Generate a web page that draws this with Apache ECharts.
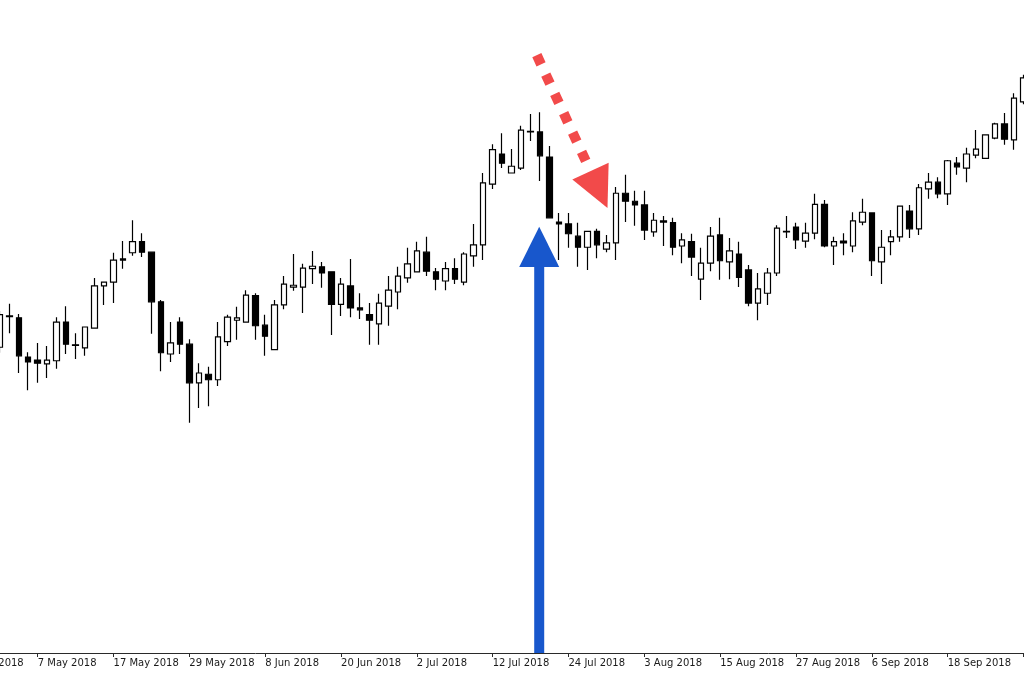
<!DOCTYPE html>
<html><head><meta charset="utf-8">
<script src="https://cdn.jsdelivr.net/npm/echarts@6/dist/echarts.min.js"></script>
<style>html,body{margin:0;padding:0;background:#fff}#c{width:1024px;height:683px}</style>
</head><body><div id="c"></div>
<script>
// Leading (empty) sessions, only used so the partial first axis label appears
const leadDates = ['25 Apr 2018','26 Apr 2018','27 Apr 2018','30 Apr 2018'];
const dates = [
 '1 May 2018','2 May 2018','3 May 2018','4 May 2018','7 May 2018','8 May 2018','9 May 2018','10 May 2018','11 May 2018',
 '14 May 2018','15 May 2018','16 May 2018','17 May 2018','18 May 2018','21 May 2018','22 May 2018','23 May 2018','24 May 2018',
 '25 May 2018','28 May 2018','29 May 2018','30 May 2018','31 May 2018',
 '1 Jun 2018','4 Jun 2018','5 Jun 2018','6 Jun 2018','7 Jun 2018','8 Jun 2018','11 Jun 2018','12 Jun 2018','13 Jun 2018',
 '14 Jun 2018','15 Jun 2018','18 Jun 2018','19 Jun 2018','20 Jun 2018','21 Jun 2018','22 Jun 2018','25 Jun 2018','26 Jun 2018',
 '27 Jun 2018','28 Jun 2018','29 Jun 2018',
 '2 Jul 2018','3 Jul 2018','4 Jul 2018','5 Jul 2018','6 Jul 2018','9 Jul 2018','10 Jul 2018','11 Jul 2018','12 Jul 2018',
 '13 Jul 2018','16 Jul 2018','17 Jul 2018','18 Jul 2018','19 Jul 2018','20 Jul 2018','23 Jul 2018','24 Jul 2018','25 Jul 2018',
 '26 Jul 2018','27 Jul 2018','30 Jul 2018','31 Jul 2018',
 '1 Aug 2018','2 Aug 2018','3 Aug 2018','6 Aug 2018','7 Aug 2018','8 Aug 2018','9 Aug 2018','10 Aug 2018','13 Aug 2018',
 '14 Aug 2018','15 Aug 2018','16 Aug 2018','17 Aug 2018','20 Aug 2018','21 Aug 2018','22 Aug 2018','23 Aug 2018','24 Aug 2018',
 '27 Aug 2018','28 Aug 2018','29 Aug 2018','30 Aug 2018','31 Aug 2018',
 '3 Sep 2018','4 Sep 2018','5 Sep 2018','6 Sep 2018','7 Sep 2018','10 Sep 2018','11 Sep 2018','12 Sep 2018','13 Sep 2018',
 '14 Sep 2018','17 Sep 2018','18 Sep 2018','19 Sep 2018','20 Sep 2018','21 Sep 2018','24 Sep 2018','25 Sep 2018','26 Sep 2018',
 '27 Sep 2018','28 Sep 2018'
];
const opens = [
 109.34,109.85,109.82,109.18,109.13,109.07,109.12,109.75,109.38,109.33,
 109.65,110.34,110.40,110.76,110.88,111.06,110.89,110.08,109.23,109.75,
 109.39,108.76,108.90,108.81,109.43,109.78,109.75,110.18,109.70,109.30,
 110.03,110.32,110.32,110.62,110.65,110.57,110.04,110.34,109.98,109.87,
 109.72,110.01,110.24,110.47,110.57,110.89,110.57,110.42,110.62,110.40,
 110.83,111.01,112.00,112.49,112.18,112.26,112.85,112.85,112.44,111.38,
 111.35,111.15,110.97,111.23,110.94,111.04,111.85,111.72,111.66,111.22,
 111.38,111.37,110.99,111.06,110.45,110.71,111.17,110.73,110.86,110.60,
 110.06,110.22,110.55,111.22,111.30,111.07,111.20,111.67,110.99,111.07,
 110.99,111.38,111.53,110.73,111.06,111.14,111.56,111.27,111.92,112.03,
 111.84,112.34,112.26,112.47,112.42,112.75,112.98,112.72,113.34
];
const highs = [
 109.93,110.05,109.88,109.26,109.41,109.36,109.83,110.01,109.57,109.68,
 110.47,110.41,110.88,111.07,111.41,111.20,110.90,110.11,109.75,109.83,
 109.47,109.08,109.02,109.75,109.87,110.00,110.27,110.22,109.87,110.11,
 110.50,110.86,110.70,110.91,110.73,110.58,110.47,110.78,110.22,110.06,
 110.21,110.50,110.65,110.96,111.06,111.14,110.63,110.73,110.79,110.89,
 111.35,112.18,112.65,112.83,112.57,112.95,113.14,113.17,112.62,111.53,
 111.53,111.37,111.24,111.27,111.17,111.95,112.15,111.89,111.89,111.53,
 111.48,111.45,111.20,111.19,110.96,111.30,111.45,111.12,111.06,110.68,
 110.55,110.63,111.33,111.48,111.37,111.37,111.84,111.74,111.14,111.20,
 111.54,111.76,111.54,111.25,111.25,111.65,111.66,112.00,112.18,112.11,
 112.39,112.44,112.59,112.88,112.81,113.00,113.16,113.48,113.78
];
const lows = [
 109.25,109.57,108.92,108.64,108.76,108.84,108.99,109.23,109.15,109.20,
 109.64,110.03,110.06,110.62,110.83,110.81,109.56,108.95,109.10,109.23,
 108.11,108.35,108.38,108.71,109.36,109.46,109.74,109.46,109.20,109.29,
 109.96,110.26,109.90,110.37,110.31,109.54,109.85,109.83,109.80,109.38,
 109.38,109.69,109.96,110.39,110.56,110.50,110.27,110.27,110.37,110.35,
 110.65,110.76,111.92,112.26,112.17,112.23,112.70,112.05,111.44,110.76,
 110.96,110.65,110.60,110.79,110.89,110.76,111.38,111.32,111.09,111.14,
 110.99,110.84,110.71,110.50,110.11,110.58,110.44,110.45,110.32,110.01,
 109.78,110.03,110.50,111.12,110.94,110.96,111.10,110.97,110.68,110.84,
 110.89,111.33,110.50,110.37,110.84,111.06,111.12,111.17,111.76,111.77,
 111.66,112.15,112.03,112.42,112.41,112.73,112.64,112.56,113.30
];
const closes = [
 109.87,109.84,109.20,109.10,109.08,109.13,109.75,109.39,109.37,109.67,
 110.34,110.40,110.76,110.78,111.06,110.89,110.08,109.25,109.41,109.39,
 108.76,108.92,108.81,109.51,109.83,109.82,110.19,109.69,109.52,110.03,
 110.37,110.35,110.63,110.66,110.55,110.04,110.37,109.98,109.95,109.78,
 110.06,110.27,110.50,110.70,110.91,110.58,110.45,110.62,110.45,110.86,
 111.01,112.02,112.56,112.34,112.29,112.88,112.86,112.46,111.45,111.35,
 111.19,110.97,111.23,111.01,111.04,111.85,111.72,111.66,111.25,111.41,
 111.40,110.97,111.09,110.81,110.71,111.15,110.75,110.91,110.48,110.06,
 110.29,110.55,111.28,111.23,111.09,111.20,111.67,110.99,111.06,111.04,
 111.40,111.54,110.75,110.97,111.14,111.64,111.27,111.94,112.03,111.84,
 112.38,112.28,112.49,112.57,112.80,112.98,112.73,113.40,113.73
];
// Annotations in data space: [category index (fractional), price]
const redArrowFrom = [60.66, 114.10];
const redArrowTo = [66.32, 112.21];
const blueArrowAt = 60.91;
const blueArrowTip = 111.305;
const blueArrowBase = 110.648;
const yMin = 104.356, yMax = 115.0;

const categories = leadDates.concat(dates);
const ohlc = leadDates.map(() => '-').concat(
  dates.map((d, i) => [opens[i], closes[i], lows[i], highs[i]]));

const chart = echarts.init(document.getElementById('c'), null, {renderer: 'canvas'});
const every8 = (i) => i % 8 === 0;
chart.setOption({
  animation: false,
  backgroundColor: '#ffffff',
  grid: {left: -42.85, right: -4.2, top: 0, bottom: 30, containLabel: false, outerBoundsMode: 'none'},
  xAxis: {
    type: 'category', data: categories, boundaryGap: true,
    axisLine: {show: true, lineStyle: {color: '#2a2a2a', width: 1}},
    axisTick: {show: true, interval: every8, alignWithLabel: true, length: 4, lineStyle: {color: '#2a2a2a'}},
    axisLabel: {show: true, interval: every8, align: 'left', margin: 5,
      fontFamily: 'DejaVu Sans', fontSize: 10, color: '#1a1a1a'},
    splitLine: {show: false}
  },
  yAxis: {type: 'value', min: yMin, max: yMax, show: false, splitLine: {show: false}},
  series: [{
    type: 'candlestick', data: ohlc, barWidth: 6,
    itemStyle: {color: '#ffffff', color0: '#000000', borderColor: '#000000', borderColor0: '#000000', borderWidth: 1.2}
  }]
});

function px(idx, price) {
  const i0 = Math.floor(idx), f = idx - i0;
  const a = chart.convertToPixel({gridIndex: 0}, [i0, price]);
  const b = chart.convertToPixel({gridIndex: 0}, [i0 + 1, price]);
  return [a[0] + (b[0] - a[0]) * f, a[1]];
}
const S = px(redArrowFrom[0], redArrowFrom[1]);
const B = px(redArrowTo[0], redArrowTo[1]);
const dx = B[0] - S[0], dy = B[1] - S[1], L = Math.hypot(dx, dy);
const ux = dx / L, uy = dy / L, nx = uy, ny = -ux;
const hw = 20, hl = 40.5;
const tip = px(blueArrowAt, blueArrowTip);
const base = px(blueArrowAt, blueArrowBase);
const axisY = chart.convertToPixel({gridIndex: 0}, [0, yMin])[1];
const red = '#f24a4a', blue = '#1857cc';
chart.setOption({
  graphic: [
    {type: 'line', z: 100, shape: {x1: S[0], y1: S[1], x2: B[0], y2: B[1]},
     style: {stroke: red, lineWidth: 10, lineDash: [10, 11.3], lineCap: 'butt'}},
    {type: 'polygon', z: 100, shape: {points: [
      [B[0] + nx * hw, B[1] + ny * hw], [B[0] - nx * hw, B[1] - ny * hw], [B[0] + ux * hl, B[1] + uy * hl]]},
     style: {fill: red}},
    {type: 'rect', z: 100, shape: {x: tip[0] - 5, y: base[1] - 1, width: 10, height: axisY - base[1] + 1},
     style: {fill: blue}},
    {type: 'polygon', z: 100, shape: {points: [[tip[0], tip[1]], [tip[0] - hw, base[1]], [tip[0] + hw, base[1]]]},
     style: {fill: blue}}
  ]
});
</script>
</body></html>
